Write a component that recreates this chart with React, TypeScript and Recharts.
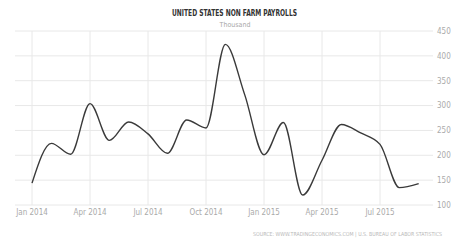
import React from "react";
import { LineChart, Line, XAxis, YAxis, CartesianGrid, ReferenceLine } from "recharts";

const months: number[] = [0, 1, 2, 3, 4, 5, 6, 7, 8, 9, 10, 11, 12, 13, 14, 15, 16, 17, 18, 19, 20];
const payrolls: number[] = [144, 224, 202, 304, 230, 267, 243, 204, 271, 255, 423, 322, 201, 266, 120, 190, 262, 245, 222, 135, 143];
const xTicks: number[] = [0, 3, 6, 9, 12, 15, 18];
const xTickLabels: string[] = ["Jan 2014", "Apr 2014", "Jul 2014", "Oct 2014", "Jan 2015", "Apr 2015", "Jul 2015"];
const yTicks: number[] = [100, 150, 200, 250, 300, 350, 400, 450];

const data = months.map((m, i) => ({ m, v: payrolls[i] }));

const FONT = "'Liberation Sans Narrow', 'DejaVu Sans Condensed', Arial, sans-serif";

export default function App() {
  return (
    <div style={{ position: "absolute", left: 0, top: 0, width: 470, height: 243, background: "#fff" }}>
      <LineChart width={470} height={243} data={data} margin={{ top: 31, right: 0, bottom: 0, left: 15 }}>
        <CartesianGrid stroke="#e8e8e8" strokeWidth={1} vertical={false} horizontal={true} />
        {xTicks.map((t) => (
          <ReferenceLine key={t} x={t} stroke="#e8e8e8" strokeWidth={1} />
        ))}
        <XAxis
          dataKey="m"
          type="number"
          domain={[-0.88, 20.74]}
          ticks={xTicks}
          tickFormatter={(v: number) => xTickLabels[xTicks.indexOf(v)] ?? ""}
          axisLine={false}
          tickLine={false}
          tickSize={0}
          tickMargin={4}
          height={38}
          interval={0}
          tick={{ fill: "#aaaaaa", fontSize: 8, fontFamily: FONT }}
          allowDataOverflow
        />
        <YAxis
          orientation="right"
          type="number"
          domain={[100, 450]}
          ticks={yTicks}
          axisLine={false}
          tickLine={false}
          tickSize={0}
          tickMargin={4}
          width={37}
          interval={0}
          tick={{ fill: "#aaaaaa", fontSize: 8, fontFamily: FONT, textAnchor: "start" }}
        />
        <Line
          type="monotone"
          dataKey="v"
          stroke="#3a3a3a"
          strokeWidth={1.4}
          dot={false}
          isAnimationActive={false}
        />
      </LineChart>
      <svg width={470} height={243} style={{ position: "absolute", left: 0, top: 0, pointerEvents: "none" }}>
        <text x={234.5} y={16} textAnchor="middle" fontFamily={FONT} fontWeight="bold" fontSize={9.5} fill="#333" textLength={125} lengthAdjust="spacingAndGlyphs">
          UNITED STATES NON FARM PAYROLLS
        </text>
        <text x={235} y={27} textAnchor="middle" fontFamily={FONT} fontSize={7} fill="#a8a8a8">
          Thousand
        </text>
        <text x={442} y={236} textAnchor="end" fontFamily={FONT} fontSize={5.5} fill="#b8b8b8" textLength={189} lengthAdjust="spacingAndGlyphs">
          SOURCE: WWW.TRADINGECONOMICS.COM | U.S. BUREAU OF LABOR STATISTICS
        </text>
      </svg>
    </div>
  );
}
